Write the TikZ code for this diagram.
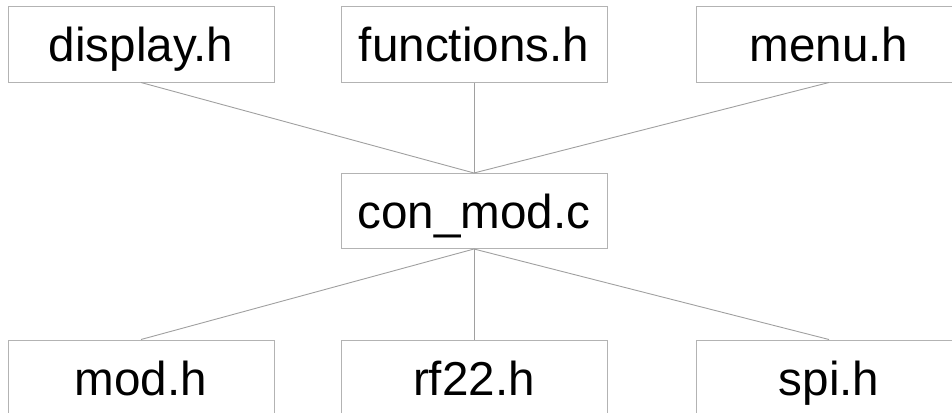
\documentclass[tikz,border=0pt]{standalone}
\usepackage{fontspec}
\setmainfont{Liberation Sans}
\definecolor{boxgray}{HTML}{B3B3B3}
\definecolor{linkgray}{HTML}{A0A0A0}
\tikzset{
  filebox/.style={draw=boxgray, line width=1pt, minimum width=266pt, minimum height=75pt,
    inner sep=0pt, text height=35pt, text depth=0pt,
    font=\fontsize{47.6}{57}\selectfont},
  link/.style={draw=linkgray, line width=0.9pt}
}
\begin{document}
\begin{tikzpicture}[x=1pt,y=-1pt]
%page
\useasboundingbox (0,0) rectangle (952,412);
%header files on top
\node[filebox] (display)   at (141,44.5) {display.h};
\node[filebox] (functions) at (474,44.5) {functions.h};
\node[filebox] (menu)      at (829,44.5) {menu.h};
%source file
\node[filebox] (conmod)    at (474,211) {con\_mod.c};
%header files below
\node[filebox] (mod)       at (141,377.5) {mod.h};
\node[filebox] (rf)        at (474,377.5) {rf22.h};
\node[filebox] (spi)       at (829,377.5) {spi.h};
%links
\foreach \f in {display,functions,menu}
  \draw[link] (\f.south) -- (conmod.north);
\foreach \f in {mod,rf,spi}
  \draw[link] (conmod.south) -- (\f.north);
\end{tikzpicture}
\end{document}
